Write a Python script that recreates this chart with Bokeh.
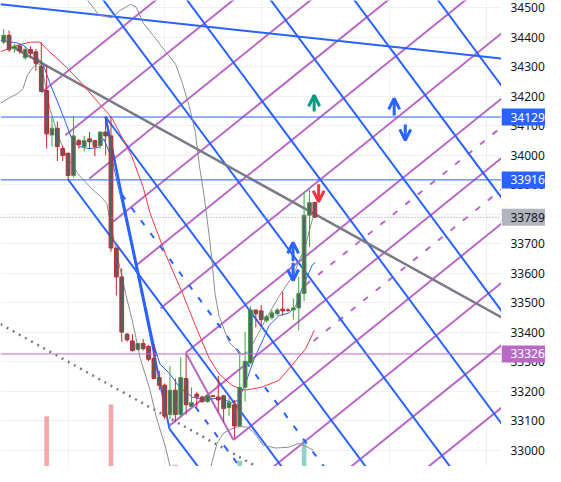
from bokeh.plotting import figure
from bokeh.layouts import row
from bokeh.models import (Range1d, FixedTicker, Arrow, OpenHead, Span,
                          ColumnDataSource)
from bokeh.core.properties import value
from bokeh.embed import file_html
from bokeh.resources import INLINE

# ---------------- candles (bar index, OHLC) ----------------
opens  = [34383, 34406, 34361, 34370, 34330, 34358, 34350, 34301, 34219, 34068,
          34091, 34022, 34006, 33931, 34049, 34029, 34055, 34049, 34032, 34078,
          34065, 33685, 33587, 33393, 33370, 33341, 33361, 33351, 33311, 33246,
          33220, 33121, 33203, 33121, 33243, 33148, 33190, 33180, 33164, 33184,
          33180, 33184, 33144, 33154, 33082, 33213, 33295, 33475, 33472, 33439,
          33449, 33462, 33478, 33475, 33475, 33482, 33531, 33796, 33839]
highs  = [34426, 34422, 34377, 34376, 34369, 34369, 34360, 34383, 34304, 34127,
          34114, 34032, 34009, 34131, 34055, 34065, 34078, 34049, 34081, 34127,
          34131, 33685, 33616, 33397, 33393, 33364, 33377, 33357, 33357, 33269,
          33226, 33285, 33243, 33315, 33324, 33213, 33197, 33184, 33187, 33187,
          33252, 33187, 33177, 33170, 33324, 33400, 33488, 33475, 33492, 33459,
          33475, 33482, 33537, 33482, 33514, 33587, 33875, 33882, 33842]
lows   = [34376, 34350, 34347, 34344, 34323, 34328, 34285, 34213, 34022, 34029,
          33980, 33980, 33918, 33924, 34022, 34013, 34022, 33996, 34022, 33999,
          33672, 33524, 33367, 33367, 33334, 33338, 33338, 33302, 33243, 33203,
          33105, 33105, 33095, 33111, 33121, 33144, 33144, 33161, 33161, 33180,
          33128, 33095, 33115, 33039, 33079, 33164, 33292, 33416, 33416, 33433,
          33442, 33456, 33456, 33469, 33442, 33406, 33505, 33688, 33789]
closes = [34406, 34357, 34369, 34353, 34358, 34345, 34311, 34216, 34072, 34091,
          34029, 33999, 33931, 34065, 34036, 34049, 34045, 34029, 34078, 34065,
          33685, 33587, 33400, 33374, 33338, 33361, 33344, 33308, 33243, 33220,
          33115, 33203, 33121, 33246, 33154, 33161, 33180, 33164, 33184, 33182,
          33170, 33141, 33161, 33082, 33213, 33301, 33475, 33462, 33442, 33452,
          33465, 33475, 33472, 33473, 33482, 33531, 33796, 33839, 33789]
bars = list(range(len(opens)))

# ---------------- volume (only visible bars) ----------------
vol_bars   = [8, 20, 32, 44, 56]
vol_values = [1080, 1330, 40, 125, 560]
vol_up     = [False, False, False, True, True]

# ---------------- indicator curves (bar, price) ----------------
red_ma_x = [-0.61, 2.15, 4.9, 6.73, 8.57, 11.69, 14.62, 17.74, 20.13, 23.8, 26.0,
            27.28, 30.22, 33.34, 35.72, 38.3, 40.13, 42.5, 44.9, 48.0, 51.3, 54.4,
            56.3, 57.9]
red_ma_y = [34350, 34370, 34383, 34383, 34350, 34298, 34242, 34176, 34127, 33999,
            33891, 33803, 33662, 33531, 33423, 33311, 33259, 33220, 33203, 33213,
            33236, 33302, 33344, 33406]
blue_ma_x = [-0.61, 2.51, 3.61, 5.45, 7.28, 8.57, 10.04, 11.69, 12.79, 14.07, 15.91,
             17.74, 18.66, 20.13, 21.78, 23.61, 25.45, 27.28, 29.12, 30.95, 32.79,
             35.17, 37.56, 40.13, 42.51, 43.8, 45.27, 46.73, 48.39, 49.49, 51.33,
             53.16, 54.44, 55.72, 57.56, 58.11]
blue_ma_y = [34389, 34380, 34373, 34344, 34311, 34245, 34180, 34104, 34049, 34029,
             34022, 34026, 34055, 33990, 33859, 33705, 33554, 33400, 33292, 33259,
             33213, 33180, 33170, 33177, 33161, 33170, 33236, 33311, 33377, 33423,
             33456, 33465, 33488, 33554, 33629, 33636]
upper_x = [15.0, 17.74, 20.13, 21.78, 23.61, 24.72, 26.0, 27.83, 30.22, 32.05, 33.34,
           34.62, 35.72, 36.46, 37.38, 38.3, 38.84, 39.39, 40.13, 41.96, 44.35,
           45.63, 47.1, 48.94, 51.33, 54.07, 56.28, 57.56, 58.11]
upper_y = [34540, 34475, 34465, 34491, 34511, 34501, 34448, 34406, 34350, 34308,
           34242, 34163, 34078, 33967, 33859, 33728, 33639, 33531, 33456, 33367,
           33324, 33334, 33383, 33446, 33521, 33596, 33695, 33783, 33809]
lower_x = [-0.61, 1.23, 2.7, 3.61, 4.35, 5.27, 6.37, 7.1, 8.57, 10.04, 11.69, 14.07,
           16.46, 18.11, 19.21, 20.13, 21.41, 22.72, 24.17, 25.45, 27.28, 28.39,
           30.22, 31.14, 33.34, 37.01, 38.48, 39.76, 41.05, 43.43, 45.27, 46.55,
           48.39, 50.77, 53.16, 54.99, 56.28, 57.74]
lower_y = [34176, 34196, 34209, 34226, 34268, 34294, 34311, 34301, 34160, 34072,
           33996, 33931, 33885, 33859, 33836, 33750, 33639, 33531, 33423, 33311,
           33203, 33115, 33007, 32934, 32875, 32875, 32934, 33023, 33059, 33079,
           33079, 33062, 33016, 33007, 33010, 33023, 33013, 33000]

# ---------------- drawings (bar, price) ----------------
h_blue_levels = [34129, 33916]
h_purple_level = 33326
last_price = 33789

top_line_x = [-0.6, 94.8]
top_line_y = [34511, 34323]
trend_x = [1.6, 94.8]
trend_y = [34367, 33430]
dotted_x = [-0.6, 52.6]
dotted_y = [33427, 32889]

blue_x0 = [30.9, 11.93, 18.97, 17.74, 33.34, 48.94, 64.53, 80.13, 18.97, 18.97]
blue_y0 = [33072, 33919, 34130, 34546, 34546, 34546, 34546, 34546, 34130, 34130]
blue_x1 = [37.93, 52.6, 69.17, 85.63, 94.8, 94.8, 94.8, 94.8, 30.9, 28.39]
blue_y1 = [32903, 32925, 32903, 32885, 33041, 33423, 33807, 34186, 33072, 33318]

bdash_x0 = [22.02, 35.72]
bdash_y0 = [33866, 33147]
bdash_x1 = [61.78, 47.1]
bdash_y1 = [32893, 32868]

purple_x0 = [7.05, 11.49, 15.93, 20.37, 24.81, 29.25, 33.94, 30.9, 42.83, 45.6,
             60.04, 74.46, 88.9, 33.94]
purple_y0 = [34213, 34067, 33920, 33774, 33628, 33481, 33330, 33083, 33034, 32875,
             32875, 32875, 32875, 33330]
purple_x1 = [29.83, 44.26, 58.7, 73.12, 87.56, 94.8, 94.8, 94.8, 94.8, 94.8,
             94.8, 94.8, 94.8, 42.83]
purple_y1 = [34547, 34547, 34547, 34547, 34547, 34442, 34221, 34019, 33797, 33596,
             33385, 33173, 32962, 33034]

pdash_x0 = [56.27, 57.74]
pdash_y0 = [33560, 33370]
pdash_x1 = [94.8, 94.8]
pdash_y1 = [34124, 33913]

arrow_x    = [57.87, 72.79, 74.86, 58.71, 53.94, 53.94]
arrow_from = [34148, 34134, 34104, 33901, 33640, 33635]
arrow_to   = [34203, 34192, 34050, 33842, 33704, 33575]
arrow_col  = ["#089981", "#2962ff", "#2962ff", "#f23645", "#2962ff", "#2962ff"]

y_ticks = [33000, 33100, 33200, 33300, 33400, 33500, 33600, 33700, 33800, 33900,
           34000, 34100, 34200, 34300, 34400, 34500]
y_tick_labels = [str(t) for t in y_ticks]
v_grid_bars = [12, 30, 48, 72, 90]

price_tags = [34129, 33916, 33789, 33326]
tag_text = ["34129", "33916", "33789", "33326"]
tag_bg = ["#2962ff", "#2962ff", "#b2b5be", "#ba68c8"]
tag_fg = ["#ffffff", "#ffffff", "#131722", "#ffffff"]

# ---------------- figure ----------------
BLUE = "#2962ff"
PURPLE = "#ba68c8"
GRAY = "#787b86"
FONT = "Noto Sans"
H = 466
FRAME_W, AXIS_W = 501, 44

yr = Range1d(32944.5, 34524)

p = figure(width=FRAME_W, height=H, x_range=Range1d(-0.6, 92.8), y_range=yr,
           x_axis_location=None, y_axis_location=None, toolbar_location=None,
           output_backend="svg", min_border=0)
p.outline_line_color = None
p.background_fill_color = "white"
p.extra_y_ranges = {"vol": Range1d(0, 10000)}

p.ygrid.ticker = FixedTicker(ticks=y_ticks)
p.xgrid.ticker = FixedTicker(ticks=v_grid_bars)
p.grid.grid_line_color = "#eef0f4"
p.grid.grid_line_width = 1

# volume
vcol = ["#8fd3c8" if u else "#f5a6a8" for u in vol_up]
p.vbar(x=vol_bars, top=vol_values, bottom=0, width=0.86, y_range_name="vol",
       fill_color=vcol, line_color=None)

# horizontal levels
for lv in h_blue_levels:
    p.add_layout(Span(location=lv, dimension="width", line_color=BLUE, line_width=1))
p.add_layout(Span(location=h_purple_level, dimension="width", line_color=PURPLE,
                  line_width=1))
p.add_layout(Span(location=last_price, dimension="width", line_color="#9598a1",
                  line_width=1, line_dash="1 2"))

# purple grid
p.segment(x0=purple_x0, y0=purple_y0, x1=purple_x1, y1=purple_y1,
          line_color=PURPLE, line_width=2)
p.segment(x0=pdash_x0, y0=pdash_y0, x1=pdash_x1, y1=pdash_y1,
          line_color=PURPLE, line_width=2, line_dash="6 10")

# blue grid
p.segment(x0=blue_x0, y0=blue_y0, x1=blue_x1, y1=blue_y1,
          line_color=BLUE, line_width=2)
p.segment(x0=bdash_x0, y0=bdash_y0, x1=bdash_x1, y1=bdash_y1,
          line_color=BLUE, line_width=2, line_dash="6 10")
p.line(top_line_x, top_line_y, line_color=BLUE, line_width=2)

# gray lines
p.line(trend_x, trend_y, line_color=GRAY, line_width=2.5)
p.line(dotted_x, dotted_y, line_color=GRAY, line_width=2.5, line_dash="2 5")

# indicators
p.line(upper_x, upper_y, line_color="#8a8d96", line_width=1)
p.line(lower_x, lower_y, line_color="#8a8d96", line_width=1)
p.line(red_ma_x, red_ma_y, line_color="#f23645", line_width=1)
p.line(blue_ma_x, blue_ma_y, line_color=BLUE, line_width=1)

# candles
ccol = ["#43a047" if c > o else "#c62828" for o, c in zip(opens, closes)]
top = [max(o, c) for o, c in zip(opens, closes)]
bot = [min(o, c) for o, c in zip(opens, closes)]
src = ColumnDataSource(dict(x=bars, hi=highs, lo=lows, top=top, bot=bot, col=ccol))
p.segment(x0="x", y0="lo", x1="x", y1="hi", line_color="col", line_width=1, source=src)
p.vbar(x="x", top="top", bottom="bot", width=0.7, fill_color="#5b5e66",
       line_color="col", line_width=1, source=src)

# arrows
for x, y0, y1, c in zip(arrow_x, arrow_from, arrow_to, arrow_col):
    p.add_layout(Arrow(end=OpenHead(size=11, line_color=c, line_width=3),
                       x_start=x, y_start=y0, x_end=x, y_end=y1,
                       line_color=c, line_width=3))

# ---------------- price scale panel ----------------
pa = figure(width=AXIS_W, height=H, x_range=Range1d(0, AXIS_W), y_range=yr,
            x_axis_location=None, y_axis_location=None, toolbar_location=None,
            output_backend="svg", min_border=0)
pa.outline_line_color = None
pa.grid.visible = False
pa.background_fill_color = "white"

pa.text(x=[9] * len(y_ticks), y=y_ticks, text=y_tick_labels,
        text_font=value(FONT), text_font_size="12px", text_color="#131722",
        text_baseline="middle", text_align="left")
pa.rect(x=[AXIS_W / 2] * len(price_tags), y=price_tags, width=AXIS_W, height=17,
        width_units="screen", height_units="screen", fill_color=tag_bg,
        line_color=None)
pa.text(x=[9] * len(price_tags), y=price_tags, text=tag_text,
        text_font=value(FONT), text_font_size="12px", text_color=tag_fg,
        text_baseline="middle", text_align="left")

layout = row(p, pa, spacing=0)
open("out.html", "w").write(file_html(layout, INLINE))
